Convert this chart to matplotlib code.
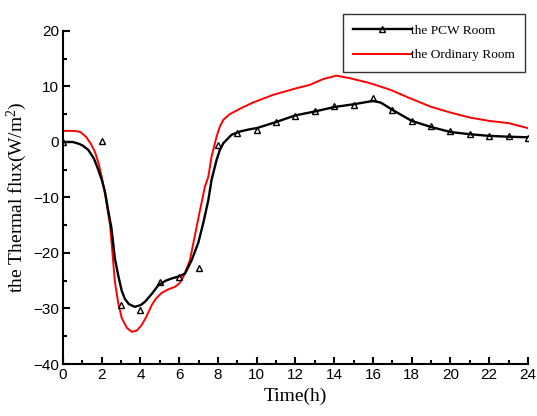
import matplotlib
matplotlib.use("Agg")
import matplotlib.pyplot as plt
from matplotlib.lines import Line2D
from matplotlib.ticker import MultipleLocator

# fonts: serif for labels/legend, sans for tick numbers
plt.rcParams['font.family'] = ['Liberation Serif', 'DejaVu Serif']
plt.rcParams['mathtext.fontset'] = 'custom'
plt.rcParams['mathtext.rm'] = 'Liberation Serif'
plt.rcParams['mathtext.default'] = 'rm'

# PCW room - smooth curve
pcw_t = [0, 0.5, 0.8, 1.0, 1.3, 1.6, 1.8, 2.0, 2.17, 2.34, 2.5, 2.68, 2.85, 3.03,
         3.2, 3.4, 3.7, 4.0, 4.23, 4.6, 4.92, 5.3, 5.6, 6.0, 6.3, 6.64, 6.98,
         7.24, 7.5, 7.67, 7.93, 8.1, 8.28, 8.7, 9.14, 9.65, 10, 11, 12, 13, 14,
         15, 15.5, 16, 16.4, 17, 18, 19, 20, 21, 22, 23, 24]
pcw_q = [0, 0, -0.3, -0.6, -1.4, -3.0, -4.8, -6.8, -9.0, -12.5, -15.5, -21.0, -24.0, -26.8,
         -28.3, -29.2, -29.7, -29.4, -28.8, -27.3, -25.8, -25.0, -24.6, -24.2, -23.7, -21.3, -18.2,
         -14.6, -10.5, -6.8, -3.2, -1.4, -0.2, 1.3, 1.9, 2.3, 2.5, 3.6, 4.8, 5.5, 6.3,
         6.8, 7.1, 7.4, 7.1, 5.8, 3.8, 2.7, 1.8, 1.4, 1.1, 0.95, 0.85]

# PCW room - measured points (triangles)
pts_t = [0, 2, 3, 4, 5, 6, 7, 8, 9, 10, 11, 12, 13, 14, 15, 16, 17, 18, 19, 20, 21, 22, 23, 24]
pts_q = [0, 0.2, -29.4, -30.3, -25.2, -24.3, -22.7, -0.5, 1.6, 2.2, 3.6, 4.7, 5.5, 6.4,
         6.7, 8.0, 5.8, 3.7, 2.8, 1.9, 1.5, 1.1, 1.0, 0.8]

# Ordinary room
ord_t = [0, 0.6, 0.9, 1.2, 1.45, 1.65, 1.85, 2.0, 2.2, 2.43, 2.68, 2.85, 3.03, 3.3,
         3.55, 3.8, 4.06, 4.3, 4.58, 4.8, 5.09, 5.4, 5.78, 6.0, 6.2, 6.55, 6.8, 7.07,
         7.33, 7.5, 7.67, 7.93, 8.1, 8.28, 8.6, 9.2, 9.8, 10.85, 12.06, 12.75, 13.4,
         14.1, 14.8, 15.85, 16.9, 17.9, 18.95, 20, 21, 22, 23, 24]
ord_q = [2.0, 2.0, 1.8, 0.9, -0.4, -1.8, -4.0, -6.3, -10.0, -15.0, -25.2, -29.0, -31.7, -33.5,
         -34.2, -34.0, -33.0, -31.5, -29.4, -28.2, -27.2, -26.6, -26.1, -25.5, -24.4, -21.3, -17.0, -12.3,
         -8.0, -6.3, -2.6, 1.0, 2.8, 4.0, 5.0, 6.1, 7.1, 8.5, 9.7, 10.3, 11.3,
         11.95, 11.5, 10.6, 9.4, 7.9, 6.4, 5.3, 4.4, 3.8, 3.4, 2.5]

fig = plt.figure(figsize=(5.37, 4.16), dpi=100)
ax = fig.add_axes([0.1173, 0.125, 0.8659, 0.8005])

ax.plot(ord_t, ord_q, color='red', lw=1.4)
ax.plot(pcw_t, pcw_q, color='black', lw=1.7)
ax.plot(pts_t, pts_q, ls='none', marker='^', ms=4.5, mfc='none', mec='black', mew=1.0)

ax.set_xlim(0, 24)
ax.set_ylim(-40, 20)
ax.xaxis.set_major_locator(MultipleLocator(2))
ax.xaxis.set_minor_locator(MultipleLocator(1))
ax.yaxis.set_major_locator(MultipleLocator(10))
ax.yaxis.set_minor_locator(MultipleLocator(5))
ax.tick_params(which='both', direction='in', width=1.5, top=False, right=False)
ax.tick_params(which='major', length=5, labelsize=11, pad=3)
ax.tick_params(which='minor', length=3)
for lab in ax.get_xticklabels() + ax.get_yticklabels():
    lab.set_fontfamily('Liberation Sans')

for s in ['top', 'right']:
    ax.spines[s].set_visible(False)
for s in ['left', 'bottom']:
    ax.spines[s].set_linewidth(1.5)

ax.set_xlabel('Time(h)', fontsize=14, labelpad=4)
ax.set_ylabel('the Thermal flux(W/m$^{2}$)', fontsize=14, labelpad=3)

handles = [Line2D([], [], color='black', lw=1.7, marker='^', ms=4, mfc='none', mec='black'),
           Line2D([], [], color='red', lw=1.4)]
leg = ax.legend(handles, ['the PCW Room', 'the Ordinary Room'],
                loc='upper right', bbox_to_anchor=(0.978, 0.966),
                bbox_transform=fig.transFigure, borderaxespad=0, fontsize=9.6,
                frameon=True, fancybox=False, edgecolor='black', handlelength=4.3,
                handletextpad=0.0, borderpad=0.8, labelspacing=0.9)
leg.get_frame().set_linewidth(1.0)

fig.savefig('out.png', dpi=100)
